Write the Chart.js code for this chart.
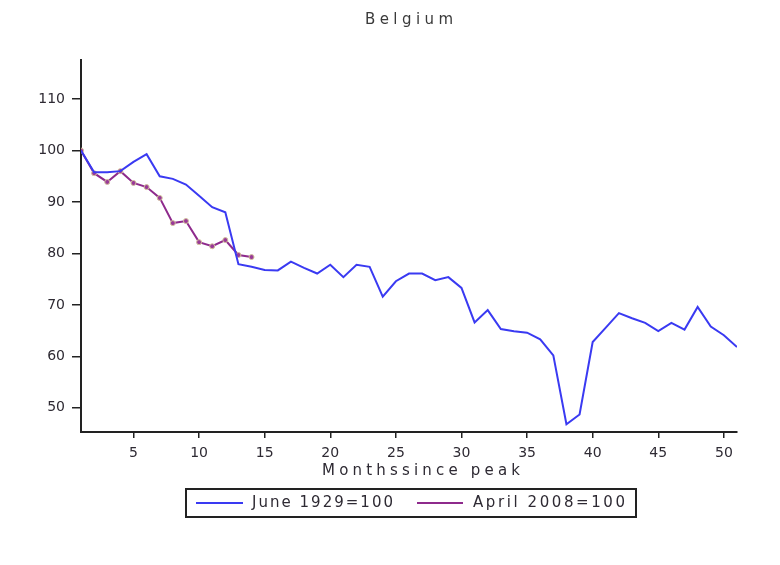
<!DOCTYPE html>
<html>
<head>
<meta charset="utf-8">
<script src="https://cdn.jsdelivr.net/npm/chart.js@4.4.1/dist/chart.umd.min.js"></script>
<style>
  html, body { margin: 0; padding: 0; background: #fff; }
  canvas { display: block; }
</style>
</head>
<body>
<canvas id="c" width="780" height="565"></canvas>
<script>
const chartTitle = "Belgium";
const xAxisTitle = "Monthssince peak";
const months = [1,2,3,4,5,6,7,8,9,10,11,12,13,14,15,16,17,18,19,20,21,22,23,24,25,26,27,28,29,30,31,32,33,34,35,36,37,38,39,40,41,42,43,44,45,46,47,48,49,50,51];
const series1929Label = "June 1929=100";
const series1929 = [100,95.8,95.8,96.0,97.8,99.3,95.0,94.5,93.4,91.2,89.0,88.0,77.9,77.4,76.8,76.7,78.4,77.2,76.1,77.8,75.4,77.8,77.4,71.6,74.6,76.1,76.1,74.8,75.4,73.3,66.6,69.0,65.3,64.9,64.6,63.3,60.2,46.8,48.7,62.8,65.6,68.4,67.4,66.5,64.9,66.5,65.2,69.6,65.8,64.1,61.8];
const series2008Label = "April 2008=100";
const series2008 = [100,95.6,93.9,96.0,93.7,92.9,90.8,85.9,86.3,82.2,81.4,82.6,79.7,79.3];
const xTicks = [5,10,15,20,25,30,35,40,45,50];
const yTicks = [50,60,70,80,90,100,110];

const textColor = '#2e2a33';
const tickFont = { family: '"DejaVu Sans", sans-serif', size: 14 };

function spacedText(ctx, text, x, y, targetWidth, align) {
  ctx.letterSpacing = '0px';
  const w = ctx.measureText(text).width;
  const sp = Math.max(0, (targetWidth - w) / Math.max(1, text.length - 1));
  ctx.letterSpacing = sp + 'px';
  ctx.textAlign = 'left';
  const start = align === 'center' ? x - targetWidth / 2 : x;
  ctx.fillText(text, start, y);
  ctx.letterSpacing = '0px';
}

const decor = {
  id: 'decor',
  afterDraw(chart) {
    const ctx = chart.ctx;
    ctx.save();
    ctx.fillStyle = '#3a3a3a';
    ctx.textBaseline = 'middle';
    ctx.font = '15px "DejaVu Sans", sans-serif';
    spacedText(ctx, chartTitle, 409, 20, 88, 'center');
    ctx.fillStyle = textColor;
    ctx.font = '15px "DejaVu Sans", sans-serif';
    spacedText(ctx, xAxisTitle, 421, 471, 198, 'center');

    // legend box
    ctx.strokeStyle = '#222';
    ctx.lineWidth = 2;
    ctx.strokeRect(186, 489, 450, 28);
    const ds = chart.data.datasets;
    const items = [
      { x0: 196, x1: 243, tx: 252, tw: 141 },
      { x0: 417, x1: 463, tx: 473, tw: 152 }
    ];
    items.forEach((it, i) => {
      const d = ds[i];
      ctx.strokeStyle = d.borderColor;
      ctx.lineWidth = 2;
      ctx.beginPath();
      ctx.moveTo(it.x0, 503);
      ctx.lineTo(it.x1, 503);
      ctx.stroke();
      ctx.fillStyle = textColor;
      ctx.font = '15px "DejaVu Sans", sans-serif';
      spacedText(ctx, d.label, it.tx, 503, it.tw, 'left');
    });
    ctx.restore();
  }
};

new Chart(document.getElementById('c'), {
  type: 'line',
  data: {
    datasets: [
      {
        label: series1929Label,
        data: months.map((m, i) => ({ x: m, y: series1929[i] })),
        borderColor: '#3a3af2',
        borderWidth: 2,
        pointRadius: 0,
        tension: 0
      },
      {
        label: series2008Label,
        data: series2008.map((v, i) => ({ x: months[i], y: v })),
        borderColor: '#8e2a8c',
        borderWidth: 2,
        pointRadius: 2.5,
        pointBackgroundColor: '#9a3a98',
        pointBorderColor: '#d2c29a',
        pointBorderWidth: 1,
        tension: 0
      }
    ]
  },
  options: {
    responsive: false,
    devicePixelRatio: 1,
    animation: false,
    layout: { padding: { top: 60, right: 43, left: 0, bottom: 0 } },
    plugins: {
      legend: { display: false },
      title: { display: false },
      tooltip: { enabled: false }
    },
    scales: {
      x: {
        type: 'linear',
        min: 1,
        max: 51,
        afterBuildTicks: s => { s.ticks = xTicks.map(v => ({ value: v })); },
        afterFit: s => { s.height = 133; },
        ticks: { font: tickFont, color: textColor, padding: 7, maxRotation: 0, autoSkip: false },
        grid: { drawOnChartArea: false, drawTicks: true, tickLength: 6, color: '#222', lineWidth: 1.5 },
        border: { display: true, color: '#222', width: 2 }
      },
      y: {
        type: 'linear',
        min: 45.3,
        max: 117.6,
        afterBuildTicks: s => { s.ticks = yTicks.map(v => ({ value: v })); },
        afterFit: s => { s.width = 81; },
        ticks: { font: tickFont, color: textColor, padding: 7, autoSkip: false },
        grid: { drawOnChartArea: false, drawTicks: true, tickLength: 9, color: '#222', lineWidth: 1.5 },
        border: { display: true, color: '#222', width: 2 }
      }
    }
  },
  plugins: [decor]
});
</script>
</body>
</html>
